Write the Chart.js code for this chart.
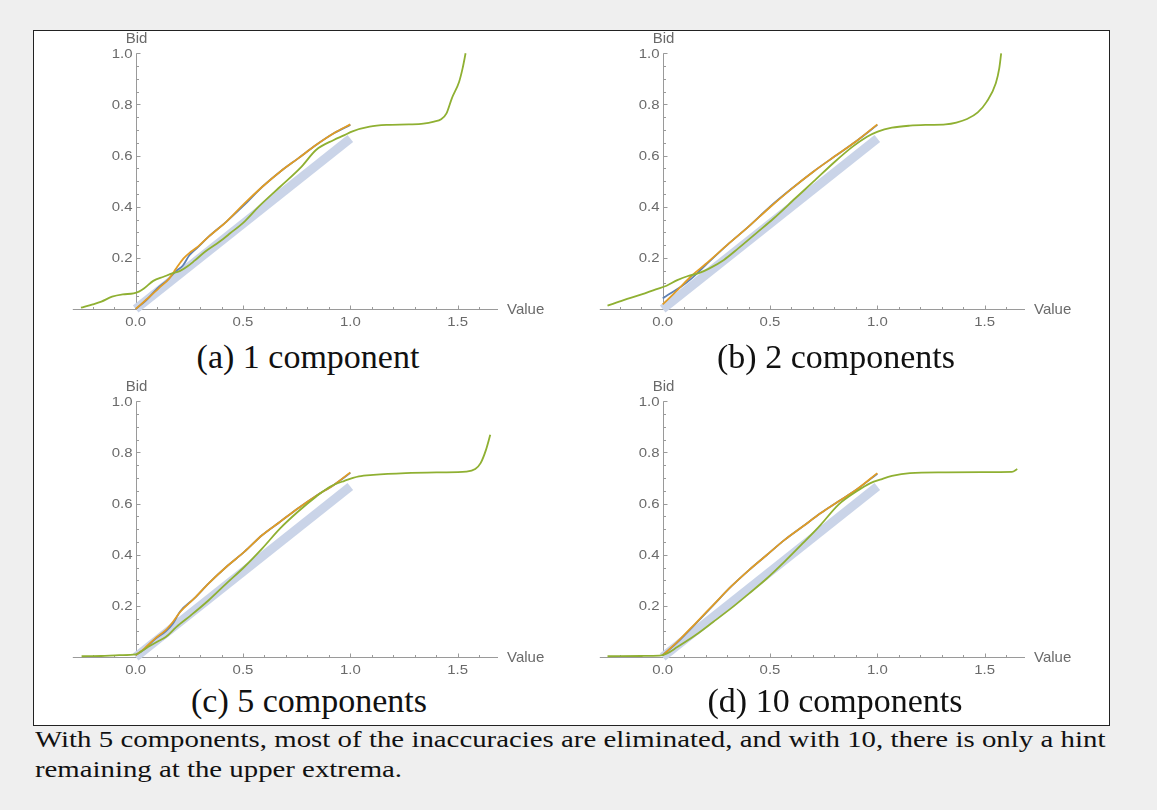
<!DOCTYPE html>
<html>
<head>
<meta charset="utf-8">
<script src="https://cdn.jsdelivr.net/npm/chart.js@4/dist/chart.umd.min.js"></script>
<style>
  body { margin: 0; background: #efefef; width: 1157px; height: 810px; position: relative; overflow: hidden; }
  #box { position: absolute; left: 33px; top: 30px; width: 1075px; height: 694px; border: 1px solid #222; background: #fff; }
  canvas { position: absolute; }
  .cap { position: absolute; width: 400px; text-align: center; font: 34px "Liberation Serif", serif; line-height: 34px; color: #111; white-space: nowrap; }
  .para { position: absolute; left: 35px; font: 24px "Liberation Serif", serif; line-height: 30px; color: #111; white-space: nowrap; transform: scaleX(1.2); transform-origin: 0 0; }
</style>
</head>
<body>
<div id="box"></div>
<canvas id="chartA" width="530" height="300" style="left:34px;top:32px"></canvas>
<canvas id="chartB" width="530" height="300" style="left:561px;top:32px"></canvas>
<canvas id="chartC" width="530" height="300" style="left:34px;top:380px"></canvas>
<canvas id="chartD" width="530" height="300" style="left:561px;top:380px"></canvas>
<div class="cap" style="left:108px;top:340px">(a) 1 component</div>
<div class="cap" style="left:636px;top:340px">(b) 2 components</div>
<div class="cap" style="left:109px;top:684px">(c) 5 components</div>
<div class="cap" style="left:635px;top:684px">(d) 10 components</div>
<div class="para" style="top:724px;width:892px;text-align:justify;text-align-last:justify;word-spacing:-3px">With 5 components, most of the inaccuracies are eliminated, and with 10, there is only a hint</div>
<div class="para" style="top:754px">remaining at the upper extrema.</div>
<script>
// axis ticks and labels
const xTicks = [0, 0.5, 1.0, 1.5];
const xTickLabels = ['0.0', '0.5', '1.0', '1.5'];
const yTicks = [0.2, 0.4, 0.6, 0.8, 1.0];
const yTickLabels = ['0.2', '0.4', '0.6', '0.8', '1.0'];
const xName = 'Value';
const yName = 'Bid';

// equilibrium bid (thick band), same in every panel
const trueBid = [[0, 0], [1, 0.667]];

// (a) 1 component
const blueA = [[0,0],[0.05,0.035],[0.1,0.08],[0.15,0.115],[0.19,0.15],[0.22,0.17],[0.25,0.21],[0.29,0.242],[0.34,0.283],[0.423,0.342],[0.5,0.402],[0.59,0.478],[0.673,0.537],[0.757,0.589],[0.84,0.641],[0.923,0.687],[1.0,0.72]];
const orangeA = [[0,0],[0.057,0.042],[0.107,0.081],[0.157,0.12],[0.19,0.16],[0.223,0.198],[0.257,0.224],[0.29,0.244],[0.34,0.283],[0.423,0.342],[0.507,0.413],[0.59,0.478],[0.673,0.537],[0.757,0.589],[0.84,0.641],[0.923,0.687],[1.0,0.722]];
const greenA = [[-0.255,0.005],[-0.2,0.018],[-0.16,0.029],[-0.11,0.048],[-0.06,0.057],[-0.01,0.061],[0.015,0.068],[0.04,0.081],[0.082,0.11],[0.13,0.126],[0.173,0.14],[0.207,0.149],[0.24,0.166],[0.273,0.188],[0.323,0.224],[0.39,0.263],[0.44,0.296],[0.507,0.342],[0.573,0.4],[0.673,0.478],[0.773,0.557],[0.84,0.622],[0.923,0.661],[0.973,0.68],[1.007,0.694],[1.09,0.713],[1.173,0.72],[1.273,0.722],[1.34,0.725],[1.39,0.733],[1.423,0.742],[1.448,0.765],[1.473,0.824],[1.507,0.889],[1.523,0.941],[1.537,1.0]];

// (b) 2 components
const blueB = [[0,0.042],[0.035,0.061],[0.085,0.087],[0.135,0.12],[0.2,0.172],[0.3,0.25],[0.4,0.322],[0.5,0.4],[0.6,0.47],[0.7,0.536],[0.8,0.596],[0.9,0.655],[1.0,0.72]];
const orangeB = [[0,0.018],[0.07,0.075],[0.135,0.13],[0.2,0.176],[0.3,0.25],[0.4,0.322],[0.5,0.398],[0.6,0.47],[0.7,0.536],[0.8,0.596],[0.9,0.655],[1.0,0.722]];
const greenB = [[-0.257,0.013],[-0.182,0.035],[-0.098,0.057],[-0.032,0.077],[0.018,0.091],[0.068,0.113],[0.118,0.129],[0.168,0.14],[0.218,0.159],[0.285,0.192],[0.352,0.237],[0.435,0.296],[0.518,0.355],[0.618,0.433],[0.702,0.498],[0.802,0.576],[0.885,0.635],[0.952,0.674],[1.002,0.694],[1.068,0.709],[1.152,0.717],[1.235,0.72],[1.318,0.722],[1.368,0.729],[1.418,0.743],[1.468,0.769],[1.51,0.811],[1.552,0.883],[1.568,0.941],[1.577,1.0]];

// (c) 5 components
const blueC = [[0,0.007],[0.04,0.03],[0.09,0.07],[0.14,0.1],[0.173,0.13],[0.207,0.178],[0.273,0.229],[0.34,0.288],[0.423,0.353],[0.507,0.412],[0.59,0.477],[0.673,0.529],[0.757,0.582],[0.84,0.63],[0.923,0.673],[1.0,0.72]];
const orangeC = [[0,0.007],[0.04,0.033],[0.09,0.072],[0.14,0.105],[0.173,0.137],[0.207,0.176],[0.273,0.229],[0.34,0.288],[0.423,0.353],[0.507,0.412],[0.59,0.477],[0.673,0.529],[0.757,0.582],[0.84,0.63],[0.923,0.673],[1.0,0.722]];
const greenC = [[-0.252,0.003],[-0.16,0.004],[-0.077,0.007],[0,0.01],[0.023,0.02],[0.057,0.039],[0.098,0.059],[0.14,0.078],[0.19,0.118],[0.257,0.163],[0.34,0.222],[0.423,0.288],[0.507,0.353],[0.59,0.425],[0.673,0.503],[0.757,0.569],[0.84,0.627],[0.907,0.667],[0.973,0.689],[1.04,0.706],[1.107,0.712],[1.257,0.719],[1.423,0.722],[1.54,0.725],[1.582,0.735],[1.607,0.758],[1.632,0.81],[1.652,0.869]];

// (d) 10 components
const blueD = [[0,0.007],[0.068,0.057],[0.152,0.129],[0.235,0.202],[0.318,0.275],[0.402,0.34],[0.485,0.399],[0.568,0.458],[0.652,0.51],[0.735,0.562],[0.818,0.608],[0.902,0.654],[1.0,0.717]];
const orangeD = [[0,0.007],[0.068,0.059],[0.152,0.131],[0.235,0.203],[0.318,0.275],[0.402,0.34],[0.485,0.399],[0.568,0.458],[0.652,0.51],[0.735,0.562],[0.818,0.608],[0.902,0.654],[1.0,0.719]];
const greenD = [[-0.257,0.003],[-0.098,0.004],[-0.015,0.005],[0.018,0.013],[0.068,0.039],[0.152,0.085],[0.235,0.137],[0.318,0.19],[0.402,0.248],[0.485,0.307],[0.568,0.373],[0.652,0.444],[0.735,0.516],[0.818,0.595],[0.902,0.647],[0.968,0.68],[1.018,0.695],[1.068,0.708],[1.152,0.719],[1.318,0.722],[1.485,0.723],[1.627,0.724],[1.652,0.735]];

const AXIS = '#9a9a9a';
const LABEL = '#6a6a6a';

// tick numbers are a bit wide and short in the original
function wideText(ctx, s, x, y) {
  ctx.save();
  ctx.translate(x, y);
  ctx.scale(1.15, 1);
  ctx.fillText(s, 0, 0);
  ctx.restore();
}

// mathematica-style axes crossing at the origin, ticks pointing inward
const mathAxes = {
  id: 'mathAxes',
  beforeDatasetsDraw(chart) {
    const ctx = chart.ctx;
    const xs = chart.scales.x, ys = chart.scales.y;
    const ox = Math.round(xs.getPixelForValue(0)) + 0.5;
    const oy = Math.round(ys.getPixelForValue(0)) + 0.5;
    const top = ys.getPixelForValue(1);
    ctx.save();
    ctx.strokeStyle = AXIS;
    ctx.lineWidth = 1;
    ctx.beginPath();
    ctx.moveTo(xs.left, oy); ctx.lineTo(xs.right, oy);
    ctx.moveTo(ox, top); ctx.lineTo(ox, oy);
    for (let i = -2; i <= 16; i++) {
      if (i === 0) continue;
      const px = Math.round(xs.getPixelForValue(i / 10)) + 0.5;
      ctx.moveTo(px, oy); ctx.lineTo(px, oy - (i % 5 === 0 ? 4 : 2.5));
    }
    for (let i = 1; i <= 20; i++) {
      const py = Math.round(ys.getPixelForValue(i / 20)) + 0.5;
      ctx.moveTo(ox, py); ctx.lineTo(ox + (i % 4 === 0 ? 4 : 2.5), py);
    }
    ctx.stroke();

    ctx.fillStyle = LABEL;
    ctx.font = '13px "Liberation Sans", Arial, sans-serif';
    ctx.textBaseline = 'middle';
    ctx.textAlign = 'center';
    xTicks.forEach((v, i) => wideText(ctx, xTickLabels[i], xs.getPixelForValue(v), oy + 13));
    ctx.textAlign = 'right';
    yTicks.forEach((v, i) => wideText(ctx, yTickLabels[i], ox - 4, ys.getPixelForValue(v) + 1));
    ctx.font = '15px "Liberation Sans", Arial, sans-serif';
    ctx.textAlign = 'center';
    ctx.fillText(yName, ox, top - 14);
    ctx.textAlign = 'left';
    ctx.fillText(xName, xs.right + 9, oy);
    ctx.restore();
  }
};

const toPts = arr => arr.map(p => ({ x: p[0], y: p[1] }));

function line(arr, color, width, order) {
  return {
    data: toPts(arr),
    showLine: true,
    borderColor: color,
    borderWidth: width,
    borderCapStyle: 'butt',
    pointRadius: 0,
    fill: false,
    clip: false,
    cubicInterpolationMode: 'monotone',
    order: order
  };
}

function drawPanel(id, blue, orange, green) {
  new Chart(document.getElementById(id), {
    type: 'scatter',
    data: {
      datasets: [
        line(trueBid, '#cad4e8', 9, 4),
        line(blue, '#5E81B5', 1.8, 3),
        line(orange, '#E19C24', 1.8, 2),
        line(green, '#8FB032', 1.8, 1)
      ]
    },
    options: {
      responsive: false,
      animation: false,
      events: [],
      layout: { padding: { left: 38.8, right: 66, top: 21.3, bottom: 23 } },
      plugins: { legend: { display: false }, tooltip: { enabled: false } },
      scales: {
        x: { type: 'linear', min: -0.293, max: 1.688, display: false },
        y: { type: 'linear', min: 0, max: 1, display: false }
      }
    },
    plugins: [mathAxes]
  });
}

drawPanel('chartA', blueA, orangeA, greenA);
drawPanel('chartB', blueB, orangeB, greenB);
drawPanel('chartC', blueC, orangeC, greenC);
drawPanel('chartD', blueD, orangeD, greenD);
</script>
</body>
</html>
